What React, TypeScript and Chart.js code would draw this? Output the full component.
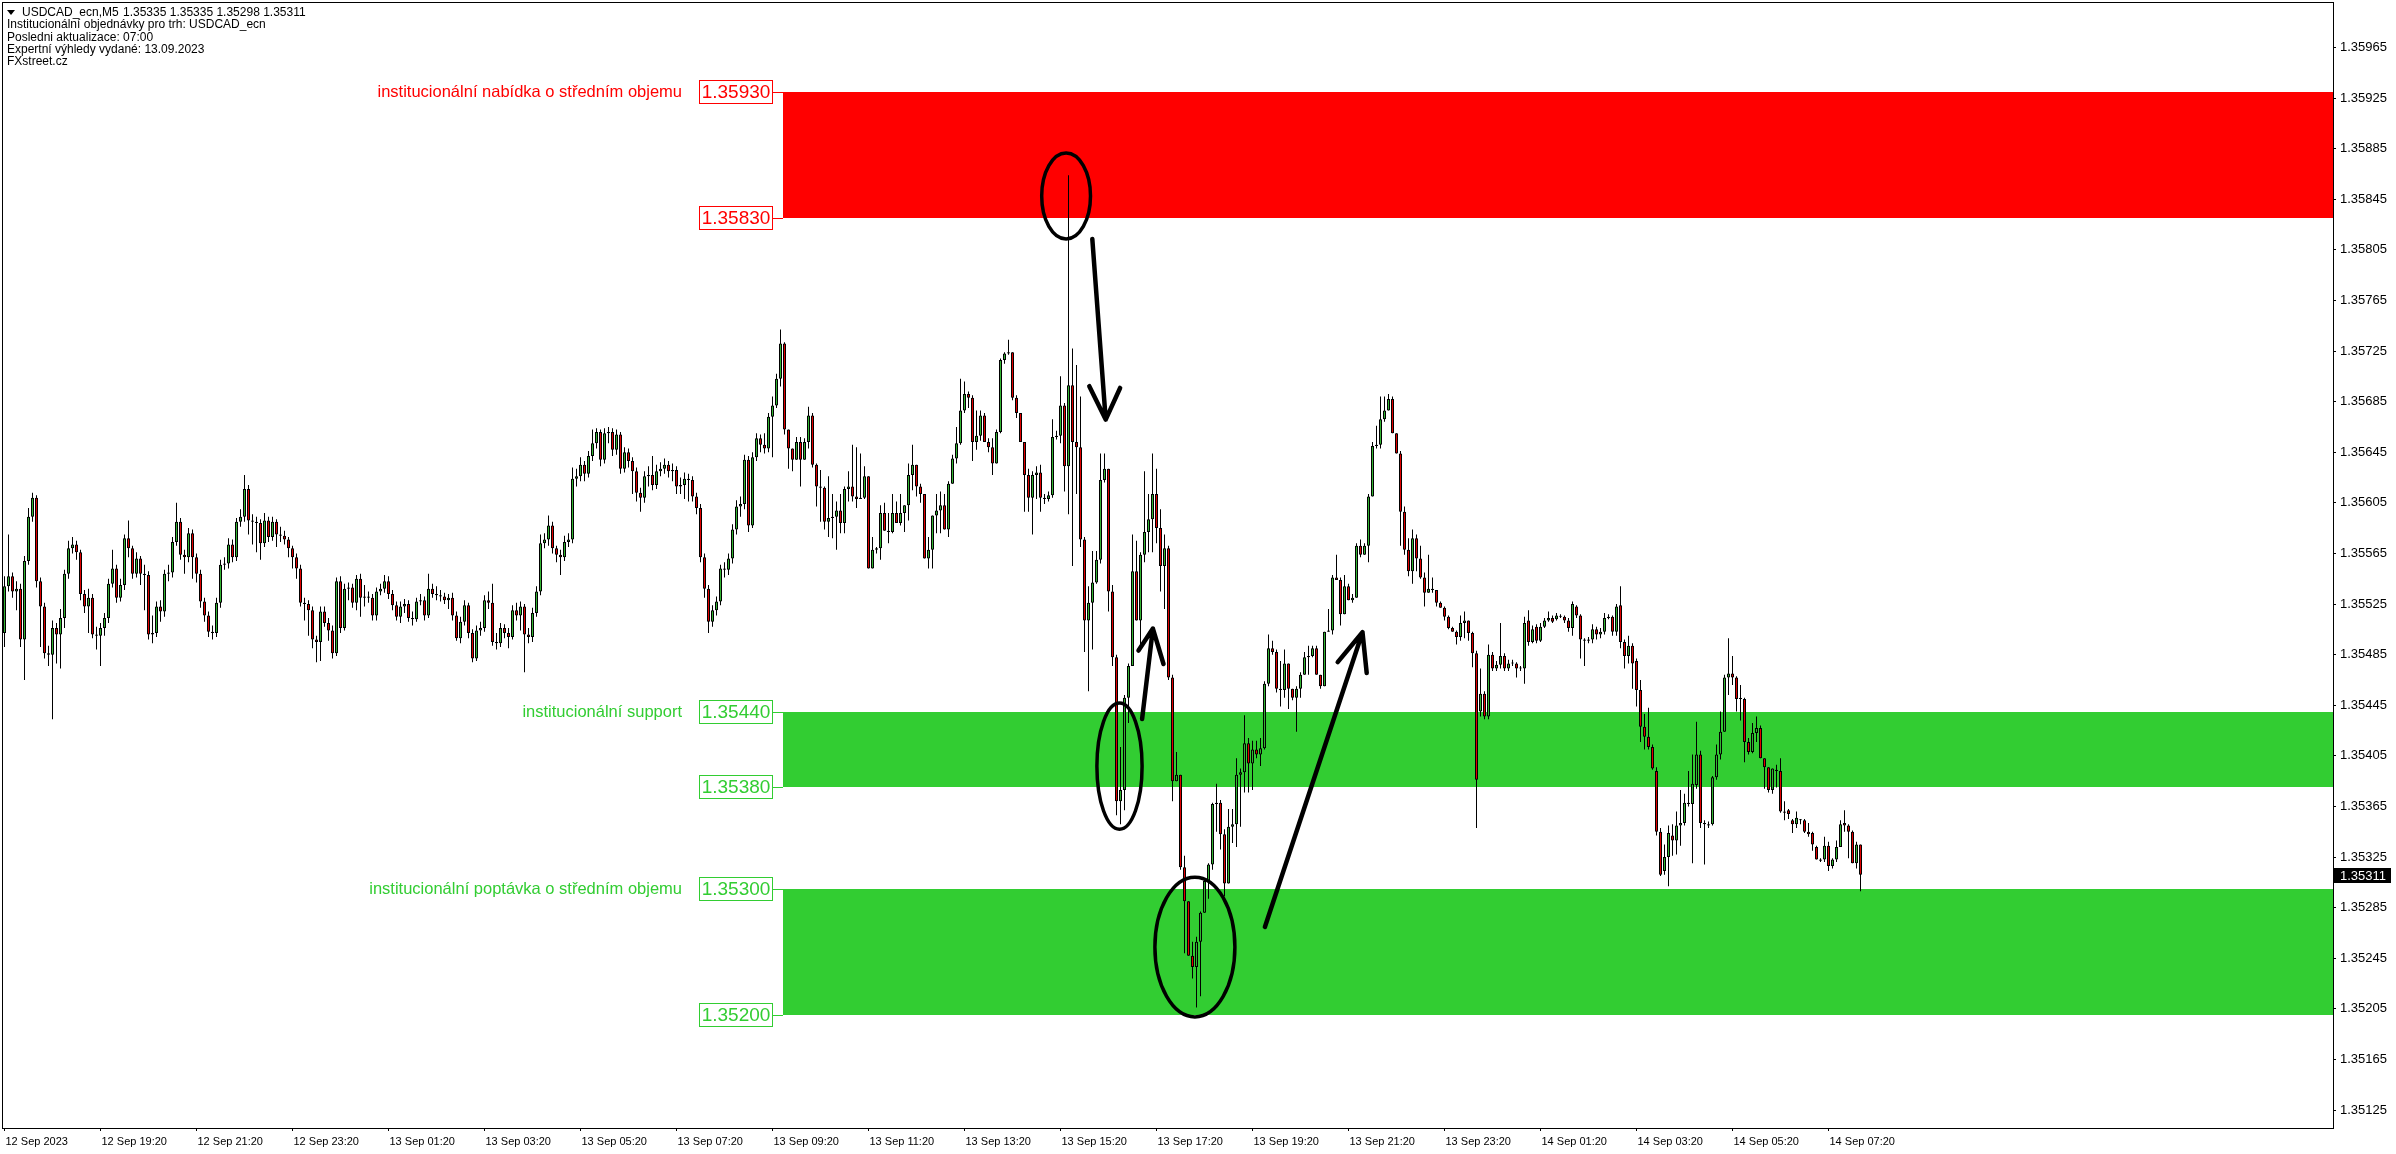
import React, { useEffect, useRef } from 'react';
import { Chart, registerables } from 'chart.js';

Chart.register(...registerables);

// USDCAD M5 candles, 12 Sep 2023 17:20 -> 14 Sep 2023 08:00.
// Prices are stored in units of 0.00001 above 1.35000 (e.g. 539 = 1.35539).
const BASE = 1.35;

const OPEN = [
  502,539,547,535,537,497,559,594,609,543, 523,486,485,506,501,514,549,569,572,566,
  533,523,530,501,500,506,514,541,553,530, 540,577,569,549,561,549,548,501,502,523,
  519,549,550,574,590,564,562,581,562,549, 527,516,503,502,526,556,557,572,562,590,
  594,616,591,590,589,573,591,578,590,580, 579,576,569,562,553,526,525,520,497,495,
  519,510,504,486,543,506,537,538,526,545, 530,531,530,516,535,537,543,533,524,515,
  523,525,514,513,527,528,516,537,533,532, 531,528,530,516,498,511,524,502,482,504,
  506,528,526,495,494,506,502,499,520,516, 523,501,499,518,535,573,576,587,569,564,
  562,574,576,624,626,635,628,642,652,661, 639,660,661,647,659,632,645,638,630,613,
  609,626,627,619,630,632,635,630,631,618, 619,624,623,610,601,562,537,511,520,527,
  553,552,561,584,602,604,639,587,641,656, 651,648,673,682,703,731,663,648,639,653,
  639,653,674,635,618,617,590,593,594,599, 589,616,618,610,608,609,626,553,568,569,
  597,583,582,597,589,597,603,627,635,618, 612,561,568,595,599,603,584,620,640,652,
  678,691,688,653,658,674,653,649,636,661, 718,723,724,688,676,653,627,609,627,629,
  609,608,611,657,658,682,634,698,653,649, 576,512,526,542,560,623,632,535,483,369,
  378,451,476,551,512,564,582,592,612,585, 555,569,467,385,390,317,290,247,238,258,
  281,306,319,367,368,343,304,349,351,390, 392,415,399,410,406,411,462,490,487,458,
  457,478,458,451,458,469,483,484,490,469, 460,503,504,546,544,517,539,528,530,571,
  564,571,610,650,651,671,678,687,660,644, 598,568,551,577,561,546,534,537,536,526,
  522,515,506,503,499,510,512,502,486,440, 454,436,485,474,477,484,474,478,478,474,
  474,512,495,507,496,507,512,514,513,515, 515,512,506,523,516,497,496,497,505,501,
  503,514,515,503,524,495,484,492,480,457, 428,420,412,393,345,314,325,342,338,350,
  352,368,367,382,406,352,351,351,388,406, 424,467,470,467,450,450,416,408,423,427,
  403,396,378,394,393,361,362,354,351,354, 354,345,344,333,323,323,334,318,323,333,
  352,350,345,320,335,
];

const HIGH = [
  547,580,550,543,541,563,601,613,611,546, 526,492,512,510,521,552,575,578,575,568,
  536,537,533,507,510,518,545,568,556,545, 580,591,571,566,563,556,551,516,527,528,
  552,556,578,605,593,568,585,584,565,552, 530,519,508,530,560,562,577,576,593,600,
  627,619,596,594,592,597,594,594,592,586, 583,578,571,565,556,530,528,523,500,523,
  523,514,508,546,547,541,542,541,548,549, 540,535,533,538,541,548,547,536,527,527,
  529,528,519,530,533,531,549,541,539,536, 534,533,534,519,515,528,526,505,508,511,
  532,535,541,502,510,509,506,524,526,527, 525,506,522,539,580,581,595,590,571,568,
  579,581,633,632,641,638,646,663,664,663, 664,665,664,663,661,649,648,641,633,617,
  630,634,642,635,637,640,638,636,634,625, 629,628,626,613,604,565,540,524,531,556,
  558,565,588,607,610,643,642,645,660,659, 660,676,689,707,742,732,663,648,657,657,
  656,681,676,636,631,618,626,612,606,612, 618,630,651,649,644,634,626,578,570,603,
  605,597,612,606,612,603,636,651,631,620, 612,578,595,612,614,612,622,643,665,703,
  701,693,690,678,678,676,656,656,663,719, 724,734,724,690,676,653,632,630,634,635,
  612,614,671,662,705,684,864,727,714,689, 578,539,567,567,644,644,632,540,485,412,
  453,478,580,575,566,630,612,644,632,600, 580,571,469,408,390,326,290,258,262,282,
  308,320,368,383,370,347,363,363,403,395, 437,419,417,417,419,464,501,496,489,480,
  489,478,458,460,471,487,492,492,492,469, 503,521,548,564,546,548,541,533,573,576,
  573,612,653,666,689,689,691,689,660,646, 602,577,584,580,571,550,564,546,536,527,
  523,516,507,504,516,519,512,503,488,474, 456,493,487,480,510,486,481,481,479,476,
  515,520,508,509,510,514,519,516,518,517, 516,514,527,524,517,498,499,509,507,506,
  518,517,516,525,539,497,500,494,482,465, 438,443,414,396,348,335,350,351,361,378,
  375,393,406,432,409,354,353,389,414,440, 469,498,484,468,461,451,419,431,436,429,
  403,396,395,398,403,369,363,355,361,355, 355,352,345,334,324,341,337,324,338,354,
  362,351,346,337,335,
];

const LOW = [
  491,535,530,520,491,465,556,590,538,491, 482,476,434,478,474,506,545,565,560,528,
  518,502,498,489,476,500,510,538,526,527, 536,562,545,546,540,520,497,494,499,511,
  515,543,546,571,560,549,558,545,542,522, 511,499,497,499,522,552,553,558,559,586,
  590,580,572,566,560,570,574,575,570,574, 572,562,553,545,523,512,500,490,479,480,
  507,496,482,484,502,504,528,522,520,515, 523,526,512,512,532,534,529,520,512,510,
  518,511,508,511,524,512,514,530,528,527, 525,521,512,496,494,508,498,479,480,500,
  503,521,492,489,491,498,490,497,512,504, 471,494,495,515,532,569,571,565,558,548,
  559,570,573,618,622,622,625,638,648,634, 636,652,642,643,628,629,633,612,606,598,
  605,618,615,616,626,628,625,622,612,612, 608,606,606,596,558,530,502,507,516,524,
  546,548,557,580,594,600,582,585,638,645, 644,645,641,680,697,659,632,630,639,618,
  639,648,633,602,590,584,578,577,568,581, 581,606,606,601,608,608,553,554,565,560,
  583,573,581,589,587,582,591,615,610,605, 561,553,553,581,581,584,578,635,636,651,
  676,680,638,647,654,653,645,627,636,660, 715,722,686,672,653,598,598,580,608,598,
  604,606,609,655,652,614,596,555,612,570, 487,456,489,541,557,621,519,476,358,351,
  362,431,476,512,490,558,566,566,573,535, 521,465,369,385,315,249,247,229,206,215,
  281,292,315,345,331,294,304,336,333,349, 376,376,378,403,397,410,460,485,455,444,
  451,442,449,424,451,469,469,483,469,458, 460,503,501,544,508,517,528,526,530,562,
  564,558,610,648,648,669,678,660,644,571, 564,547,541,551,545,523,534,534,523,522,
  512,505,503,493,496,498,496,475,348,436, 434,434,472,472,474,472,472,476,467,472,
  462,492,494,494,495,506,511,510,512,514, 510,503,500,514,482,476,494,494,497,498,
  501,513,500,500,490,474,478,458,444,416, 410,410,394,342,310,311,302,326,327,334,
  350,365,320,379,348,319,348,350,386,402, 424,453,461,440,433,400,406,407,416,403,
  379,376,375,380,360,354,355,344,348,351, 344,341,330,323,321,321,314,316,321,333,
  345,324,320,316,298,
];

const CLOSE = [
  539,547,535,537,497,559,594,609,543,523, 486,485,506,501,514,549,569,572,566,533,
  523,530,501,500,506,514,541,553,530,540, 577,569,549,561,549,548,501,502,523,519,
  549,550,574,590,564,562,581,562,549,527, 516,503,502,526,556,557,572,562,590,594,
  616,591,590,589,573,591,578,590,580,579, 576,569,562,553,526,525,520,497,495,519,
  510,504,486,543,506,537,538,526,545,530, 531,530,516,535,537,543,533,524,515,523,
  525,514,513,527,528,516,537,533,532,531, 528,530,516,498,511,524,502,482,504,506,
  528,526,495,494,506,502,499,520,516,523, 501,499,518,535,573,576,587,569,564,562,
  574,576,624,626,635,628,642,652,661,639, 660,661,647,659,632,645,638,630,613,609,
  626,627,619,630,632,635,630,631,618,619, 624,623,610,601,562,537,511,520,527,553,
  552,561,584,602,604,639,587,641,656,651, 648,673,682,703,731,663,648,639,653,639,
  653,674,635,618,617,590,593,594,599,589, 616,618,610,608,609,626,553,568,569,597,
  583,582,597,589,597,603,627,635,618,612, 561,568,595,599,603,584,620,640,652,678,
  691,688,653,658,674,653,649,636,661,718, 723,724,688,676,653,627,609,627,629,609,
  608,611,657,658,682,634,698,653,649,576, 512,526,542,560,623,632,535,483,369,378,
  451,476,551,512,564,582,592,612,585,555, 569,467,385,390,317,290,247,238,258,281,
  306,319,367,368,343,304,349,351,390,392, 415,399,410,406,411,462,490,487,458,457,
  478,458,451,458,469,483,484,490,469,460, 503,504,546,544,517,539,528,530,571,564,
  571,610,650,651,671,678,687,660,644,598, 568,551,577,561,546,534,537,536,526,522,
  515,506,503,499,510,512,502,486,386,454, 436,485,474,477,484,474,478,478,474,474,
  510,495,505,496,507,512,514,511,516,515, 512,506,525,516,497,496,497,505,501,503,
  514,515,503,523,495,484,492,478,457,428, 420,412,395,345,311,325,344,338,350,352,
  368,367,383,406,352,351,350,388,406,424, 467,470,467,450,450,416,408,423,427,403,
  396,378,395,393,361,360,359,351,356,354, 345,343,335,323,322,334,318,323,333,351,
  350,345,320,335,311,
];

// Time axis: one label every 24 bars (2 hours of M5 bars)
const TIME_LABEL_BARS = [0, 24, 48, 72, 96, 120, 144, 168, 192, 216, 240, 264, 288, 312, 336, 360, 384, 408, 432, 456];
const TIME_LABELS = [
  '12 Sep 2023', '12 Sep 19:20', '12 Sep 21:20', '12 Sep 23:20', '13 Sep 01:20', '13 Sep 03:20',
  '13 Sep 05:20', '13 Sep 07:20', '13 Sep 09:20', '13 Sep 11:20', '13 Sep 13:20', '13 Sep 15:20',
  '13 Sep 17:20', '13 Sep 19:20', '13 Sep 21:20', '13 Sep 23:20', '14 Sep 01:20', '14 Sep 03:20',
  '14 Sep 05:20', '14 Sep 07:20',
];

const PRICE_TICKS = [
  1.35125, 1.35165, 1.35205, 1.35245, 1.35285, 1.35325, 1.35365, 1.35405, 1.35445, 1.35485, 1.35525,
  1.35565, 1.35605, 1.35645, 1.35685, 1.35725, 1.35765, 1.35805, 1.35845, 1.35885, 1.35925, 1.35965,
];

const Y_MIN = 1.351108;
const Y_MAX = 1.360009;
const X_MIN = -0.625;
const X_MAX = 582.125;

// Institutional zones
const ZONE_TOPS = [1.3593, 1.3544, 1.353];
const ZONE_BOTTOMS = [1.3583, 1.3538, 1.352];
const ZONE_COLORS = ['#ff0000', '#32cd32', '#32cd32'];
const ZONE_TEXT_COLORS = ['#ff0000', '#32cd32', '#32cd32'];
const ZONE_LABELS = [
  'institucionální nabídka o středním objemu',
  'institucionální support',
  'institucionální poptávka o středním objemu',
];
const ZONE_START_BAR = 194.6;

// Hand-drawn annotations (in bar index / price units)
const ELLIPSES = [
  [259.3, 271.5, 1.358815, 1.358135],
  [273.1, 284.4, 1.354467, 1.35347],
  [287.6, 307.6, 1.35309, 1.351986],
];
const ARROWS = [
  [[271.95, 1.358136], [275.3, 1.356708], [271.2, 1.356972], [278.9, 1.356958]],
  [[284.4, 1.354341], [287.1, 1.355056], [283.5, 1.354882], [289.75, 1.354776]],
  [[315.1, 1.352697], [339.5, 1.355027], [333.3, 1.354791], [340.55, 1.354705]],
];

const HEADER_SYMBOL = 'USDCAD_ecn,M5';
const HEADER_OHLC = ['1.35335', '1.35335', '1.35298', '1.35311'];
const HEADER_LINES = [
  'Institucionální objednávky pro trh: USDCAD_ecn',
  'Posledni aktualizace: 07:00',
  'Expertní výhledy vydané: 13.09.2023',
  'FXstreet.cz',
];

const BULL = '#32b432';
const BEAR = '#e00000';
const FONT = '"Liberation Sans", Arial, sans-serif';

const P = (v: number) => +(BASE + v / 100000).toFixed(5);

const overlayPlugin = {
  id: 'overlay',
  beforeDatasetsDraw(chart: any) {
    const { ctx, chartArea: a, scales } = chart;
    const x = scales.x;
    const y = scales.y;
    ctx.save();
    ctx.beginPath();
    ctx.rect(a.left, a.top, a.right - a.left, a.bottom - a.top);
    ctx.clip();
    const x0 = Math.round(x.getPixelForValue(ZONE_START_BAR));
    for (let i = 0; i < ZONE_TOPS.length; i++) {
      const yt = Math.round(y.getPixelForValue(ZONE_TOPS[i]));
      const yb = Math.round(y.getPixelForValue(ZONE_BOTTOMS[i]));
      ctx.fillStyle = ZONE_COLORS[i];
      ctx.fillRect(x0, yt, a.right - x0, yb - yt);
    }
    ctx.restore();
  },
  afterDatasetsDraw(chart: any) {
    const { ctx, scales } = chart;
    const x = scales.x;
    const y = scales.y;
    ctx.save();
    const x0 = Math.round(x.getPixelForValue(ZONE_START_BAR));
    // zone labels and price boxes
    for (let i = 0; i < ZONE_TOPS.length; i++) {
      const prices = [ZONE_TOPS[i], ZONE_BOTTOMS[i]];
      ctx.strokeStyle = ZONE_TEXT_COLORS[i];
      ctx.lineWidth = 1;
      for (const p of prices) {
        const py = Math.round(y.getPixelForValue(p));
        const bx = x0 - 84;
        ctx.fillStyle = '#ffffff';
        ctx.fillRect(bx, py - 12, 74, 24);
        ctx.strokeRect(bx + 0.5, py - 11.5, 73, 23);
        ctx.beginPath();
        ctx.moveTo(bx + 74, py + 0.5);
        ctx.lineTo(x0, py + 0.5);
        ctx.stroke();
        ctx.fillStyle = ZONE_TEXT_COLORS[i];
        ctx.font = `19px ${FONT}`;
        ctx.textAlign = 'center';
        ctx.textBaseline = 'middle';
        ctx.fillText(p.toFixed(5), bx + 37, py + 1);
      }
      const ly = Math.round(y.getPixelForValue(ZONE_TOPS[i]));
      ctx.fillStyle = ZONE_TEXT_COLORS[i];
      ctx.font = `16.5px ${FONT}`;
      ctx.textAlign = 'right';
      ctx.textBaseline = 'middle';
      ctx.fillText(ZONE_LABELS[i], x0 - 101, ly);
    }
    // hand drawn ellipses
    ctx.strokeStyle = '#000';
    ctx.lineWidth = 3.5;
    for (const [b1, b2, p1, p2] of ELLIPSES) {
      const xa = x.getPixelForValue(b1);
      const xb = x.getPixelForValue(b2);
      const ya = y.getPixelForValue(p1);
      const yb = y.getPixelForValue(p2);
      ctx.beginPath();
      ctx.ellipse((xa + xb) / 2, (ya + yb) / 2, Math.abs(xb - xa) / 2, Math.abs(yb - ya) / 2, 0, 0, Math.PI * 2);
      ctx.stroke();
    }
    // arrows
    ctx.lineWidth = 4.5;
    ctx.lineCap = 'round';
    ctx.lineJoin = 'round';
    for (const [tail, tip, arm1, arm2] of ARROWS) {
      const px = (pt: number[]) => [x.getPixelForValue(pt[0]), y.getPixelForValue(pt[1])];
      const t0 = px(tail), t1 = px(tip), h1 = px(arm1), h2 = px(arm2);
      ctx.beginPath();
      ctx.moveTo(t0[0], t0[1]);
      ctx.lineTo(t1[0], t1[1]);
      ctx.moveTo(h1[0], h1[1]);
      ctx.lineTo(t1[0], t1[1]);
      ctx.lineTo(h2[0], h2[1]);
      ctx.stroke();
    }
    ctx.restore();
  },
  afterDraw(chart: any) {
    const { ctx, chartArea: a, scales } = chart;
    const y = scales.y;
    ctx.save();
    // frame
    ctx.strokeStyle = '#000';
    ctx.lineWidth = 1;
    ctx.strokeRect(a.left + 0.5, a.top + 0.5, a.right - a.left, a.bottom - a.top);
    // header
    ctx.fillStyle = '#000';
    ctx.beginPath();
    ctx.moveTo(7, 10);
    ctx.lineTo(15, 10);
    ctx.lineTo(11, 15);
    ctx.closePath();
    ctx.fill();
    ctx.font = `12px ${FONT}`;
    ctx.textAlign = 'left';
    ctx.textBaseline = 'middle';
    ctx.fillText(HEADER_SYMBOL, 22, 12.5);
    ctx.fillText(HEADER_OHLC.join(' '), 123, 12.5);
    HEADER_LINES.forEach((t, i) => ctx.fillText(t, 7, 25 + i * 12.3));
    // current price marker
    const last = P(CLOSE[CLOSE.length - 1]);
    const py = Math.round(y.getPixelForValue(last));
    ctx.fillStyle = '#000';
    ctx.fillRect(a.right + 1, py - 7, 57, 15);
    ctx.fillStyle = '#fff';
    ctx.font = `13px ${FONT}`;
    ctx.fillText(last.toFixed(5), a.right + 7, py + 1);
    ctx.restore();
  },
};

export default function App() {
  const ref = useRef<HTMLCanvasElement | null>(null);
  useEffect(() => {
    document.body.style.margin = '0';
    const canvas = ref.current;
    if (!canvas) return;
    const idx = OPEN.map((_, i) => i);
    const chart = new Chart(canvas, {
      type: 'bar',
      data: {
        datasets: [
          {
            label: 'bodies',
            data: idx.map((i) => ({ x: i, y: [P(OPEN[i]), P(CLOSE[i])] })) as any,
            backgroundColor: idx.map((i) => (CLOSE[i] >= OPEN[i] ? BULL : BEAR)),
            borderColor: '#000',
            borderWidth: 1,
            borderSkipped: false,
            barThickness: 3,
            minBarLength: 1,
            grouped: false,
            inflateAmount: 0,
            order: 1,
          } as any,
          {
            label: 'wicks',
            data: idx.map((i) => ({
              x: i,
              y: [P(Math.min(LOW[i], OPEN[i], CLOSE[i])), P(Math.max(HIGH[i], OPEN[i], CLOSE[i]))],
            })) as any,
            backgroundColor: '#000',
            borderWidth: 0,
            barThickness: 1,
            grouped: false,
            inflateAmount: 0,
            order: 2,
          } as any,
        ],
      },
      options: {
        animation: false,
        responsive: false,
        devicePixelRatio: 1,
        layout: { autoPadding: false, padding: { left: 2, top: 2, right: 0, bottom: 0 } },
        plugins: { legend: { display: false }, tooltip: { enabled: false } },
        scales: {
          x: {
            type: 'linear',
            min: X_MIN,
            max: X_MAX,
            bounds: 'data',
            offset: false,
            afterBuildTicks: (s: any) => {
              s.ticks = TIME_LABEL_BARS.map((v) => ({ value: v }));
            },
            afterFit: (s: any) => {
              s.height = 26;
              s.paddingLeft = 0;
              s.paddingRight = 0;
              s.paddingTop = 0;
              s.paddingBottom = 0;
            },
            grid: { display: true, drawOnChartArea: false, drawTicks: true, tickLength: 3, color: '#000', offset: false },
            border: { display: false },
            ticks: {
              autoSkip: false,
              maxRotation: 0,
              minRotation: 0,
              align: 'start',
              labelOffset: 1,
              padding: 4,
              color: '#000',
              font: { family: FONT, size: 11 },
              callback: (_v: any, i: number) => TIME_LABELS[i],
            },
          } as any,
          y: {
            type: 'linear',
            position: 'right',
            min: Y_MIN,
            max: Y_MAX,
            bounds: 'data',
            beginAtZero: false,
            afterBuildTicks: (s: any) => {
              s.ticks = PRICE_TICKS.map((v) => ({ value: v }));
            },
            afterFit: (s: any) => {
              s.width = 63;
              s.paddingLeft = 0;
              s.paddingRight = 0;
              s.paddingTop = 0;
              s.paddingBottom = 0;
            },
            grid: { display: true, drawOnChartArea: false, drawTicks: true, tickLength: 3, color: '#000' },
            border: { display: false },
            ticks: {
              padding: 4,
              color: '#000',
              font: { family: FONT, size: 13 },
              callback: (v: any) => Number(v).toFixed(5),
            },
          } as any,
        },
      },
      plugins: [overlayPlugin],
    });
    return () => chart.destroy();
  }, []);
  return <canvas ref={ref} width={2396} height={1154} style={{ display: 'block', width: 2396, height: 1154 }} />;
}
